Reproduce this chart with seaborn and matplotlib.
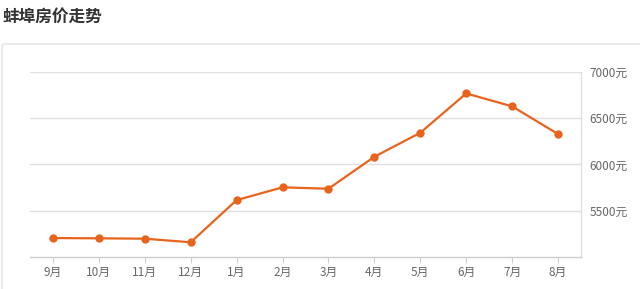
import matplotlib
matplotlib.use("Agg")
import matplotlib.pyplot as plt
import seaborn as sns
import pandas as pd
from matplotlib.patches import FancyBboxPatch

months = ["9月", "10月", "11月", "12月", "1月", "2月", "3月", "4月", "5月", "6月", "7月", "8月"]
prices = [5202, 5199, 5195, 5156, 5613, 5751, 5736, 6082, 6342, 6768, 6628, 6328]
yticks = [5500, 6000, 6500, 7000]
ytick_labels = ["5500元", "6000元", "6500元", "7000元"]
title = "蚌埠房价走势"

sns.set_theme(style="white")
plt.rcParams['font.family'] = ['Noto Sans CJK SC', 'DejaVu Sans']

fig = plt.figure(figsize=(6.4, 2.89), dpi=100)
fig.patch.set_facecolor("white")

# outer panel
panel = FancyBboxPatch((2/640, -0.05), 700/640, 1 - 44/289 + 0.05,
                       boxstyle="round,pad=0,rounding_size=0.006",
                       transform=fig.transFigure, facecolor="white",
                       edgecolor="#e2e2e2", linewidth=1.0, zorder=-10)
fig.patches.append(panel)

fig.text(3/640, 1 - 17/289, title, fontsize=12, fontweight="bold",
         color="#333333", va="center", ha="left")

ax = fig.add_axes([30/640, 1 - 256.7/289, (581 - 30)/640, (256.7 - 72)/289])
ax.set_zorder(5)
ax.set_facecolor("none")
ax.patch.set_alpha(0)

df = pd.DataFrame({"month": months, "price": prices})
df["pos"] = range(len(months))
sns.lineplot(data=df, x="pos", y="price", ax=ax, color="#e8631c",
             linewidth=1.6, marker="o", markersize=6,
             markeredgecolor="#e8631c", markeredgewidth=0, zorder=3)

ax.set_xlim(-0.5, len(months) - 0.5)
ax.set_ylim(5000, 7000)
ax.set_xticks(df["pos"])
ax.set_xticklabels(months)
ax.set_yticks(yticks)
ax.set_yticklabels(ytick_labels)
ax.yaxis.tick_right()
ax.set_xlabel("")
ax.set_ylabel("")

for y in yticks:
    ax.axhline(y, color="#e0e0e0", linewidth=1.0, zorder=1)

for side in ["top", "left"]:
    ax.spines[side].set_visible(False)
ax.spines["right"].set_color("#e0e0e0")
ax.spines["right"].set_linewidth(1.0)
ax.spines["bottom"].set_color("#cccccc")
ax.spines["bottom"].set_linewidth(1.0)

ax.tick_params(axis="x", length=4, width=0.8, color="#cccccc",
               labelsize=8.5, pad=3, bottom=True, direction="out", labelcolor="#666666")
ax.tick_params(axis="y", length=0, labelsize=8.5, labelcolor="#666666", pad=6)
for lab in ax.get_yticklabels():
    lab.set_ha("left")

fig.savefig("out.png", dpi=100, facecolor="white")
